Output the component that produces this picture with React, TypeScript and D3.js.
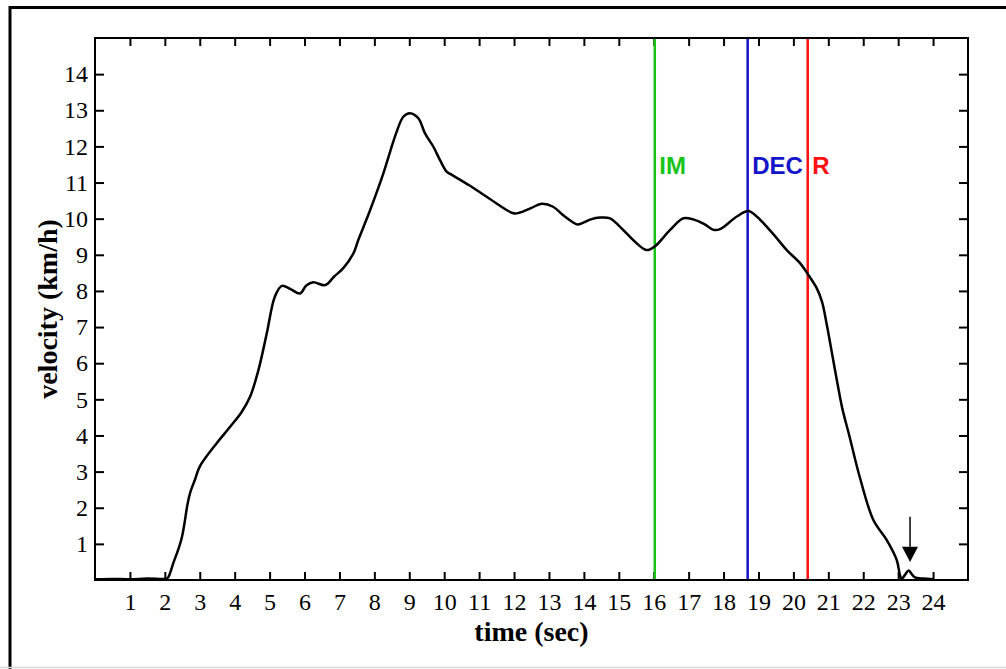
import { useEffect, useRef } from 'react';
import * as d3 from 'd3';

const timeSec = [
  0, 0.5, 1.0, 1.5, 2.0, 2.08, 2.24, 2.48, 2.65, 2.72, 2.86, 3.0, 3.48, 3.87, 4.2, 4.44, 4.68, 4.92,
  5.15, 5.35, 5.6, 5.87, 6.05, 6.25, 6.59, 6.85, 7.11, 7.4, 7.54, 7.88, 8.26, 8.45, 8.64, 8.83, 9.02,
  9.26, 9.45, 9.69, 9.88, 10.07, 10.17, 10.74, 11.3, 11.98, 12.17, 12.5, 12.79, 13.12, 13.4, 13.7,
  13.82, 13.94, 14.2, 14.46, 14.75, 15.03, 15.51, 15.8, 16.04, 16.47, 16.85, 17.13, 17.45, 17.71,
  17.9, 18.38, 18.71, 18.95, 19.4, 19.81, 20.19, 20.43, 20.67, 20.82, 20.95, 21.1, 21.25, 21.4, 21.6,
  21.9, 22.29, 22.67, 22.96, 23.05, 23.1, 23.2, 23.3, 23.4, 23.48, 23.72, 24.0,
];
const velocity = [
  0.02, 0.03, 0.02, 0.04, 0.03, 0.05, 0.46, 1.15, 2.1, 2.4, 2.77, 3.14, 3.78, 4.24, 4.65, 5.07, 5.81, 6.83,
  7.84, 8.14, 8.05, 7.93, 8.15, 8.24, 8.16, 8.4, 8.63, 9.04, 9.41, 10.24, 11.26, 11.85, 12.41, 12.82, 12.92,
  12.78, 12.36, 11.99, 11.62, 11.3, 11.24, 10.91, 10.55, 10.15, 10.17, 10.3, 10.41, 10.33, 10.1, 9.89,
  9.84, 9.87, 9.98, 10.03, 10.01, 9.78, 9.32, 9.13, 9.24, 9.69, 10.01, 9.98, 9.85, 9.69,
  9.71, 10.06, 10.21, 10.06, 9.6, 9.13, 8.77, 8.44, 8.07, 7.7, 7.1, 6.3, 5.5, 4.75, 4.0,
  2.85, 1.66, 1.11, 0.55, 0.14, 0.03, 0.15, 0.26, 0.15, 0.07, 0.04, 0.02,
];

const xTicks = d3.range(1, 25);
const yTicks = d3.range(1, 15);

const markerNames = ['IM', 'DEC', 'R'];
const markerTimes = [16.03, 18.69, 20.41];
const markerColors = ['#18c418', '#1414c8', '#ff1010'];
const markerLabelV = 11.25;

const arrowT = 23.34;
const arrowTop = 1.75;
const arrowBase = 0.92;
const arrowTip = 0.5;

const W = 1006;
const H = 669;
const margin = { top: 38, right: 38, bottom: 89, left: 95 };
const serif = '"Liberation Serif", "Times New Roman", serif';
const sans = '"Liberation Sans", Arial, sans-serif';

const App = () => {
  const ref = useRef<SVGSVGElement>(null);

  useEffect(() => {
    const svg = d3.select(ref.current);
    svg.selectAll('*').remove();

    const x = d3.scaleLinear().domain([0, 25]).range([margin.left, W - margin.right]);
    const y = d3.scaleLinear().domain([0, 15]).range([H - margin.bottom, margin.top]);

    svg.append('rect').attr('width', W).attr('height', H).attr('fill', 'white');

    // outer frame
    svg
      .append('rect')
      .attr('x', 10)
      .attr('y', 7.5)
      .attr('width', W + 20)
      .attr('height', H + 20)
      .attr('fill', 'none')
      .attr('stroke', '#000')
      .attr('stroke-width', 3);
    svg
      .append('line')
      .attr('x1', 0)
      .attr('x2', W)
      .attr('y1', 667.5)
      .attr('y2', 667.5)
      .attr('stroke', '#d8d8d8')
      .attr('stroke-width', 1.5);

    const styleAxis = (g: any) => {
      g.select('.domain').remove();
      g.selectAll('line').attr('stroke', '#000').attr('stroke-width', 2);
      g.selectAll('text').attr('font-family', serif).attr('font-size', 24).attr('fill', '#000');
    };

    svg
      .append('g')
      .attr('transform', `translate(0,${y(0)})`)
      .call(d3.axisBottom(x).tickValues(xTicks).tickSize(-8).tickSizeOuter(0).tickPadding(13).tickFormat(d3.format('d')) as any)
      .call(styleAxis);
    svg
      .append('g')
      .attr('transform', `translate(0,${y(15)})`)
      .call(d3.axisTop(x).tickValues(xTicks).tickSize(-8).tickSizeOuter(0).tickFormat(() => '') as any)
      .call(styleAxis);
    svg
      .append('g')
      .attr('transform', `translate(${x(0)},0)`)
      .call(d3.axisLeft(y).tickValues(yTicks).tickSize(-9).tickSizeOuter(0).tickPadding(7).tickFormat(d3.format('d')) as any)
      .call(styleAxis);
    svg
      .append('g')
      .attr('transform', `translate(${x(25)},0)`)
      .call(d3.axisRight(y).tickValues(yTicks).tickSize(-9).tickSizeOuter(0).tickFormat(() => '') as any)
      .call(styleAxis);

    // marker lines
    markerTimes.forEach((t, i) => {
      svg
        .append('line')
        .attr('x1', x(t))
        .attr('x2', x(t))
        .attr('y1', y(15))
        .attr('y2', y(0))
        .attr('stroke', markerColors[i])
        .attr('stroke-width', 2.5);
      svg
        .append('text')
        .attr('x', x(t) + 4.5)
        .attr('y', y(markerLabelV))
        .attr('font-family', sans)
        .attr('font-weight', 'bold')
        .attr('font-size', 24)
        .attr('fill', markerColors[i])
        .text(markerNames[i]);
    });

    const line = d3
      .line<number>()
      .x((d, i) => x(timeSec[i]))
      .y((d) => y(d))
      .curve(d3.curveCatmullRom.alpha(0.5));

    svg
      .append('path')
      .datum(velocity)
      .attr('d', line)
      .attr('fill', 'none')
      .attr('stroke', '#000')
      .attr('stroke-width', 2.5)
      .attr('stroke-linejoin', 'round');

    // plot box
    svg
      .append('rect')
      .attr('x', x(0))
      .attr('y', y(15))
      .attr('width', x(25) - x(0))
      .attr('height', y(0) - y(15))
      .attr('fill', 'none')
      .attr('stroke', '#000')
      .attr('stroke-width', 2);

    // arrow
    svg
      .append('line')
      .attr('x1', x(arrowT))
      .attr('x2', x(arrowT))
      .attr('y1', y(arrowTop))
      .attr('y2', y(arrowBase))
      .attr('stroke', '#000')
      .attr('stroke-width', 1.5);
    svg
      .append('path')
      .attr('d', `M${x(arrowT) - 8},${y(arrowBase)}L${x(arrowT) + 8},${y(arrowBase)}L${x(arrowT)},${y(arrowTip)}Z`)
      .attr('fill', '#000');

    // axis titles
    svg
      .append('text')
      .attr('x', (x(0) + x(25)) / 2)
      .attr('y', 641)
      .attr('text-anchor', 'middle')
      .attr('font-family', serif)
      .attr('font-weight', 'bold')
      .attr('font-size', 28)
      .text('time (sec)');
    svg
      .append('text')
      .attr('transform', `translate(57,${(y(0) + y(15)) / 2}) rotate(-90)`)
      .attr('text-anchor', 'middle')
      .attr('font-family', serif)
      .attr('font-weight', 'bold')
      .attr('font-size', 28)
      .text('velocity (km/h)');
  }, []);

  return <svg ref={ref} width={W} height={H} style={{ position: 'absolute', left: 0, top: 0 }} />;
};

export default App;
